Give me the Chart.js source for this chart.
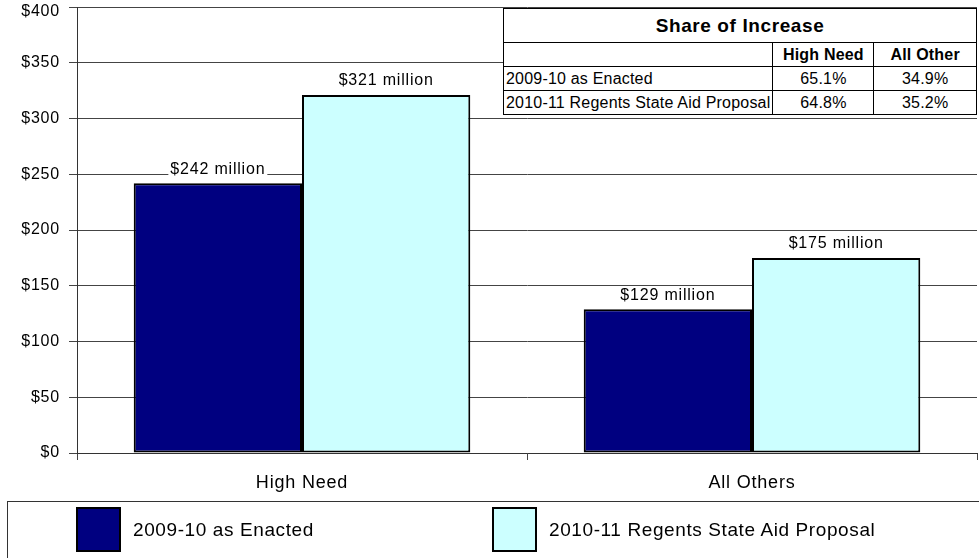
<!DOCTYPE html>
<html>
<head>
<meta charset="utf-8">
<script src="https://cdn.jsdelivr.net/npm/chart.js@4.4.1/dist/chart.umd.min.js"></script>
<style>
  body { margin: 0; background: #fff; font-family: "Liberation Sans", Arial, sans-serif; }
  #wrap { position: relative; width: 979px; height: 558px; overflow: hidden; }
  #myChart { position: absolute; left: 0; top: 0; }
  #share {
    position: absolute; left: 503px; top: 8px; width: 474px;
    border-collapse: collapse; background: #fff; font-size: 16px; color: #000;
    letter-spacing: 0.2px;
  }
  #share td { border: 1px solid #000; padding: 0 2px; height: 23px; line-height: 20px; white-space: nowrap; }
  #share .titulo { font-size: 19px; letter-spacing: 0.6px; font-weight: bold; text-align: center; height: 33px; }
  #share .head { font-weight: bold; text-align: center; height: 21px; }
  #share .num { text-align: center; }
  #leyenda {
    position: absolute; left: 7px; top: 501px; width: 990px; height: 80px;
    border: 1px solid #333; box-sizing: border-box; font-size: 19px; letter-spacing: 0.6px;
  }
  .item { position: absolute; top: 5px; display: flex; align-items: center; }
  .swatch { width: 45px; height: 45px; border: 2px solid #000; box-sizing: border-box; margin-right: 12px; }
</style>
</head>
<body>
<div id="wrap">
  <canvas id="myChart" width="979" height="558"></canvas>
  <table id="share"></table>
  <div id="leyenda"></div>
</div>
<script>
const categorias = ["High Need", "All Others"];
const series = ["2009-10 as Enacted", "2010-11 Regents State Aid Proposal"];
const valoresEnacted = [242, 129];
const valoresPropuesta = [321, 175];
const coloresSeries = ["#000080", "#CCFFFF"];
const ticksY = [0, 50, 100, 150, 200, 250, 300, 350, 400];

// tabla "Share of Increase"
const tituloTabla = "Share of Increase";
const columnasTabla = ["High Need", "All Other"];
const filasTabla = ["2009-10 as Enacted", "2010-11 Regents State Aid Proposal"];
const shareHighNeed = ["65.1%", "64.8%"];
const shareAllOther = ["34.9%", "35.2%"];

const fuente = "'Liberation Sans', Arial, sans-serif";

function armarTabla() {
  const tabla = document.getElementById("share");
  let html = `<tr><td class="titulo" colspan="3">${tituloTabla}</td></tr>`;
  html += `<tr><td></td><td class="head" style="width:96px">${columnasTabla[0]}</td><td class="head" style="width:98px">${columnasTabla[1]}</td></tr>`;
  filasTabla.forEach((fila, i) => {
    html += `<tr><td>${fila}</td><td class="num">${shareHighNeed[i]}</td><td class="num">${shareAllOther[i]}</td></tr>`;
  });
  tabla.innerHTML = html;
}

function armarLeyenda() {
  const leyenda = document.getElementById("leyenda");
  const posiciones = [68, 484];
  leyenda.innerHTML = series.map((s, i) => `
    <div class="item" style="left:${posiciones[i]}px">
      <div class="swatch" style="background:${coloresSeries[i]}"></div>
      <span>${s}</span>
    </div>`).join("");
}

// un poco de espacio entre letras para todo el texto del canvas
const espaciado = {
  id: "espaciado",
  beforeUpdate(chart) { chart.ctx.letterSpacing = "0.8px"; },
  beforeDraw(chart) {
    chart.ctx.letterSpacing = "0.8px";
    // la etiqueta de $400 queda pegada al borde superior: bajarla un poco
    const items = chart.scales.y.getLabelItems(chart.chartArea);
    const ultimo = items[items.length - 1];
    if (ultimo && !ultimo.movido) {
      ultimo.options.translation[1] += 5;
      ultimo.movido = true;
    }
  },
};

// etiquetas "$xxx million" con fondo blanco sobre cada barra
const etiquetasBarras = {
  id: "etiquetasBarras",
  afterDatasetsDraw(chart) {
    const ctx = chart.ctx;
    ctx.save();
    ctx.font = `16px ${fuente}`;
    ctx.textAlign = "center";
    ctx.textBaseline = "middle";
    chart.data.datasets.forEach((ds, i) => {
      chart.getDatasetMeta(i).data.forEach((bar, j) => {
        const texto = `$${ds.data[j]} million`;
        const w = ctx.measureText(texto).width + 4;
        const y = bar.y - 14;
        ctx.fillStyle = "#fff";
        ctx.fillRect(bar.x - w / 2, y - 9, w, 17);
        ctx.fillStyle = "#000";
        ctx.fillText(texto, bar.x, y);
      });
    });
    ctx.restore();
  }
};

armarTabla();
armarLeyenda();

const config = {
  type: "bar",
  data: {
    labels: categorias,
    datasets: [
      {
        label: series[0],
        data: valoresEnacted,
        backgroundColor: coloresSeries[0],
        borderColor: "#000",
        borderWidth: 2,
        borderSkipped: false,
      },
      {
        label: series[1],
        data: valoresPropuesta,
        backgroundColor: coloresSeries[1],
        borderColor: "#000",
        borderWidth: 2,
        borderSkipped: false,
      },
    ],
  },
  options: {
    responsive: false,
    animation: false,
    layout: { padding: { top: 7, right: 2, left: 0, bottom: 0 } },
    plugins: { legend: { display: false }, tooltip: { enabled: false } },
    datasets: { bar: { categoryPercentage: 0.748, barPercentage: 1 } },
    scales: {
      x: {
        afterFit: (scale) => { scale.height = 105; },
        grid: { offset: true, drawOnChartArea: false, tickLength: 7, color: "#444", lineWidth: 1 },
        border: { color: "#333", width: 1 },
        ticks: { padding: 12, color: "#000", font: { size: 18, family: fuente } },
      },
      y: {
        min: 0,
        max: 400,
        afterFit: (scale) => {
          scale.width = 77;
          scale.paddingTop = 0;
          scale.paddingBottom = 0;
        },
        afterBuildTicks: (scale) => { scale.ticks = ticksY.map((v) => ({ value: v })); },
        grid: { color: "#444", lineWidth: 1, tickLength: 8 },
        border: { color: "#333", width: 1 },
        ticks: {
          padding: 9,
          color: "#000",
          font: { size: 16, family: fuente },
          callback: (v) => "$" + v,
        },
      },
    },
  },
  plugins: [espaciado, etiquetasBarras],
};

new Chart(document.getElementById("myChart"), config);
</script>
</body>
</html>
